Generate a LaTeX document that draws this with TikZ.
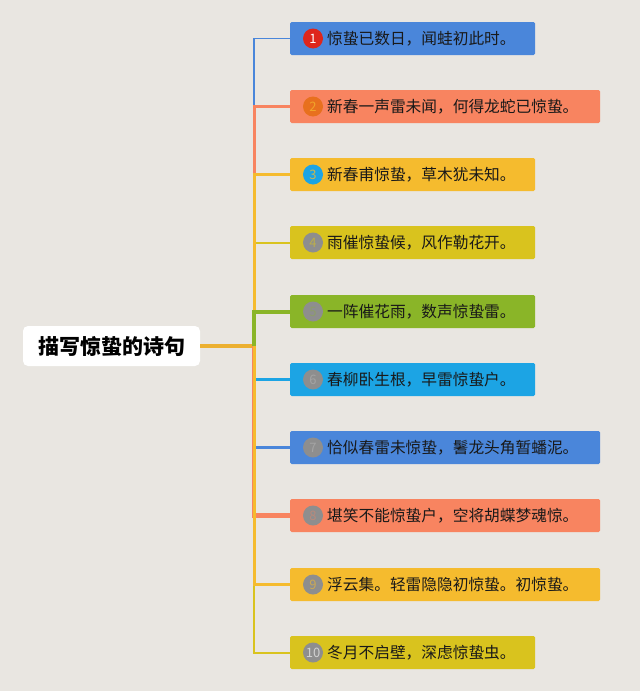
\documentclass[tikz,border=0pt]{standalone}
\usepackage{fontspec}
\setmainfont{Noto Sans CJK SC}
\usepackage{tikz}
\usetikzlibrary{shapes}
\definecolor{bg}{RGB}{233,230,225}
\definecolor{cblue}{RGB}{74,134,218}
\definecolor{csalmon}{RGB}{248,132,96}
\definecolor{corange}{RGB}{245,187,46}
\definecolor{colive}{RGB}{217,195,30}
\definecolor{cgreen}{RGB}{138,181,40}
\definecolor{csky}{RGB}{28,164,228}
\definecolor{cred}{RGB}{222,38,28}
\definecolor{cdeep}{RGB}{232,112,30}
\definecolor{cgray}{RGB}{142,142,142}
\definecolor{croot}{RGB}{236,176,48}

\begin{document}
\begin{tikzpicture}[
  poem/.style={rectangle,rounded corners=1.5bp,minimum height=33bp,anchor=west,inner sep=0pt},
  num/.style={circle,inner sep=0pt,minimum size=20bp,font=\fontsize{13bp}{13bp}\selectfont},
  verse/.style={anchor=west,inner sep=0pt,text=black!90,font=\fontsize{15.7bp}{16bp}\selectfont}]

\fill[bg] (0bp,0bp) rectangle (640bp,-691bp);
\useasboundingbox (0bp,0bp) rectangle (640bp,-691bp);

\node (R) at (111.5bp,-346bp)[fill=white,rounded corners=5bp,minimum width=177bp,minimum height=40bp,inner sep=0pt,font=\bfseries\fontsize{21bp}{21bp}\selectfont] {描写惊蛰的诗句};
\coordinate (J) at (254bp,-346bp);

\node (P1) at (290bp,-38.5bp)[poem,fill=cblue,minimum width=245bp] {};
\node (N1) at ([xshift=23bp]P1.west)[num,fill=cred,text=white] {1};
\node (T1) at ([xshift=37bp]P1.west)[verse] {惊蛰已数日，闻蛙初此时。};
\node (P2) at (290bp,-106.5bp)[poem,fill=csalmon,minimum width=310bp] {};
\node (N2) at ([xshift=23bp]P2.west)[num,fill=cdeep,text=corange!70!cdeep] {2};
\node (T2) at ([xshift=37bp]P2.west)[verse] {新春一声雷未闻，何得龙蛇已惊蛰。};
\node (P3) at (290bp,-174.5bp)[poem,fill=corange,minimum width=245bp] {};
\node (N3) at ([xshift=23bp]P3.west)[num,fill=csky,text=corange!80!csky] {3};
\node (T3) at ([xshift=37bp]P3.west)[verse] {新春甫惊蛰，草木犹未知。};
\node (P4) at (290bp,-242.5bp)[poem,fill=colive,minimum width=245bp] {};
\node (N4) at ([xshift=23bp]P4.west)[num,fill=cgray,text=colive!60!cgray] {4};
\node (T4) at ([xshift=37bp]P4.west)[verse] {雨催惊蛰候，风作勒花开。};
\node (P5) at (290bp,-311.5bp)[poem,fill=cgreen,minimum width=245bp] {};
\node (N5) at ([xshift=23bp]P5.west)[num,fill=cgray,text=cgreen!35!cgray] {5};
\node (T5) at ([xshift=37bp]P5.west)[verse] {一阵催花雨，数声惊蛰雷。};
\node (P6) at (290bp,-379.5bp)[poem,fill=csky,minimum width=245bp] {};
\node (N6) at ([xshift=23bp]P6.west)[num,fill=cgray,text=cgray!80!white] {6};
\node (T6) at ([xshift=37bp]P6.west)[verse] {春柳卧生根，早雷惊蛰户。};
\node (P7) at (290bp,-447.5bp)[poem,fill=cblue,minimum width=310bp] {};
\node (N7) at ([xshift=23bp]P7.west)[num,fill=cgray,text=cgray!80!white] {7};
\node (T7) at ([xshift=37bp]P7.west)[verse] {恰似春雷未惊蛰，鬐龙头角暂蟠泥。};
\node (P8) at (290bp,-515.5bp)[poem,fill=csalmon,minimum width=310bp] {};
\node (N8) at ([xshift=23bp]P8.west)[num,fill=cgray,text=csalmon!40!cgray] {8};
\node (T8) at ([xshift=37bp]P8.west)[verse] {堪笑不能惊蛰户，空将胡蝶梦魂惊。};
\node (P9) at (290bp,-584.5bp)[poem,fill=corange,minimum width=310bp] {};
\node (N9) at ([xshift=23bp]P9.west)[num,fill=cgray,text=corange!60!cgray] {9};
\node (T9) at ([xshift=37bp]P9.west)[verse] {浮云集。轻雷隐隐初惊蛰。初惊蛰。};
\node (P10) at (290bp,-652.5bp)[poem,fill=colive,minimum width=245bp] {};
\node (N10) at ([xshift=23bp]P10.west)[num,fill=cgray,text=cgray!40!white] {10};
\node (T10) at ([xshift=37bp]P10.west)[verse] {冬月不启壁，深虑惊蛰虫。};

\draw [croot,line width=4bp] (R.east) to (J);
\draw [csky,line width=3bp] (J) |- (P6.west);
\draw [cblue,line width=3bp] (J) |- (P7.west);
\draw [cblue,line width=1.5bp] (J) |- (P1.west);
\draw [csalmon,line width=3bp] (J) |- (P2.west);
\draw [colive,line width=2bp] (J) |- (P4.west);
\draw [corange,line width=3bp] (J) |- (P3.west);
\draw [cgreen,line width=4bp] (J) |- (P5.west);
\draw [colive,line width=2bp] (J) |- (P10.west);
\draw [csalmon,line width=4.5bp] (J) |- (P8.west);
\draw [corange,line width=3bp] (J) |- (P9.west);
\end{tikzpicture}
\end{document}
